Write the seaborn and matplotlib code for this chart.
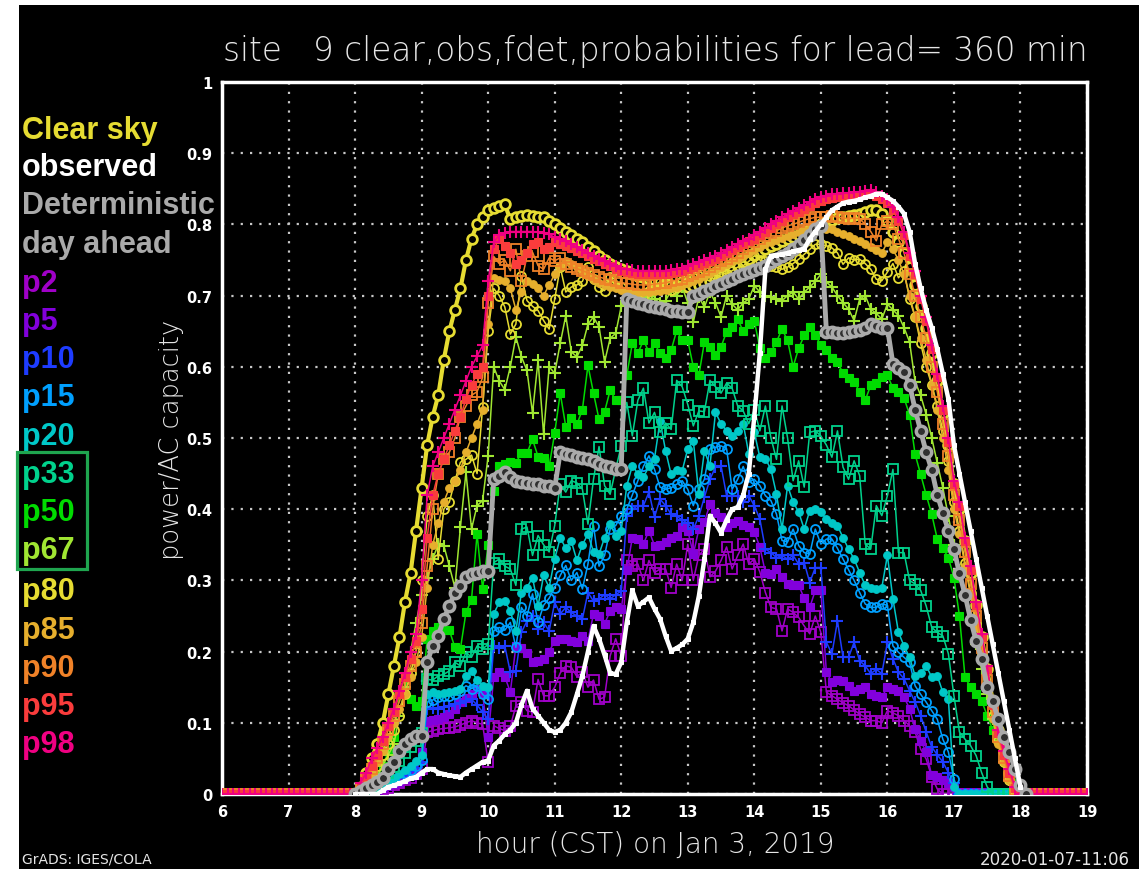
import numpy as np
import matplotlib
matplotlib.use("Agg")
import matplotlib.pyplot as plt
import seaborn as sns
from matplotlib.patches import Rectangle

# ---------------------------------------------------------------------------
# 5-minute values from 08:00 to 18:00 (zero before and after)
# ---------------------------------------------------------------------------
clear_sky = [
    0, 0.01, 0.03, 0.05, 0.07, 0.10, 0.14, 0.18, 0.22, 0.27, 0.31, 0.37,
    0.43, 0.49, 0.53, 0.56, 0.61, 0.65, 0.68, 0.71, 0.75, 0.78, 0.80, 0.81,
    0.82, 0.823, 0.826, 0.828, 0.807, 0.81, 0.812, 0.813, 0.812, 0.81, 0.81, 0.805,
    0.80, 0.795, 0.79, 0.785, 0.78, 0.775, 0.768, 0.762, 0.756, 0.75, 0.745, 0.74,
    0.737, 0.734, 0.731, 0.728, 0.726, 0.724, 0.721, 0.719, 0.717, 0.715, 0.714, 0.713,
    0.712, 0.713, 0.715, 0.718, 0.72, 0.724, 0.728, 0.732, 0.737, 0.742, 0.747, 0.752,
    0.757, 0.761, 0.765, 0.769, 0.773, 0.776, 0.779, 0.782, 0.785, 0.789, 0.793, 0.797,
    0.80, 0.803, 0.806, 0.809, 0.811, 0.812, 0.813, 0.815, 0.817, 0.82, 0.82, 0.815,
    0.805, 0.79, 0.775, 0.76, 0.74, 0.715, 0.685, 0.655, 0.62, 0.58, 0.535, 0.49,
    0.435, 0.40, 0.355, 0.31, 0.265, 0.22, 0.175, 0.13, 0.09, 0.06, 0.03, 0.01,
    0]

observed = [
    0, 0, 0, 0, 0, 0.005, 0.01, 0.012, 0.015, 0.018, 0.022, 0.024,
    0.03, 0.035, 0.035, 0.03, 0.028, 0.026, 0.025, 0.024, 0.03, 0.035, 0.04, 0.045,
    0.047, 0.068, 0.075, 0.084, 0.09, 0.10, 0.125, 0.145, 0.12, 0.11, 0.10, 0.09,
    0.087, 0.09, 0.10, 0.115, 0.14, 0.166, 0.20, 0.236, 0.218, 0.195, 0.17, 0.168,
    0.185, 0.241, 0.286, 0.264, 0.27, 0.276, 0.26, 0.246, 0.222, 0.201, 0.205, 0.21,
    0.218, 0.241, 0.278, 0.33, 0.391, 0.38, 0.367, 0.385, 0.40, 0.403, 0.42, 0.45,
    0.53, 0.62, 0.737, 0.756, 0.757, 0.758, 0.76, 0.762, 0.764, 0.766, 0.78, 0.79,
    0.80, 0.81, 0.82, 0.825, 0.83, 0.832, 0.833, 0.835, 0.838, 0.84, 0.843, 0.843,
    0.838, 0.833, 0.825, 0.815, 0.79, 0.745, 0.71, 0.68, 0.655, 0.625, 0.59, 0.555,
    0.49, 0.45, 0.41, 0.37, 0.33, 0.29, 0.25, 0.21, 0.17, 0.13, 0.09, 0.05,
    0.01]

deterministic = [
    0, 0.004, 0.008, 0.012, 0.017, 0.023, 0.035, 0.045, 0.06, 0.07, 0.077, 0.082,
    0.082, 0.185, 0.208, 0.222, 0.246, 0.264, 0.283, 0.292, 0.305, 0.309, 0.311, 0.313,
    0.313, 0.442, 0.447, 0.452, 0.445, 0.44, 0.438, 0.437, 0.436, 0.435, 0.433, 0.432,
    0.43, 0.48, 0.478, 0.476, 0.474, 0.472, 0.47, 0.467, 0.464, 0.461, 0.459, 0.457,
    0.456, 0.695, 0.692, 0.69, 0.688, 0.686, 0.684, 0.683, 0.681, 0.679, 0.678, 0.677,
    0.677, 0.70, 0.702, 0.706, 0.709, 0.713, 0.716, 0.72, 0.723, 0.727, 0.73, 0.733,
    0.736, 0.739, 0.742, 0.747, 0.752, 0.756, 0.76, 0.765, 0.771, 0.778, 0.785, 0.794,
    0.798, 0.649, 0.649, 0.648, 0.648, 0.649, 0.65, 0.652, 0.655, 0.66, 0.658, 0.655,
    0.655, 0.604, 0.598, 0.592, 0.575, 0.54, 0.51, 0.48, 0.455, 0.42, 0.395, 0.37,
    0.344, 0.31, 0.28, 0.245, 0.215, 0.19, 0.15, 0.13, 0.105, 0.08, 0.059, 0.035,
    0.012, 0]

p2 = [
    0, 0.001, 0.002, 0.003, 0.005, 0.007, 0.009, 0.012, 0.015, 0.019, 0.023, 0.028,
    0.035, 0.087, 0.089, 0.091, 0.092, 0.093, 0.094, 0.097, 0.10, 0.103, 0.10, 0.098,
    0.045, 0.096, 0.092, 0.089, 0.095, 0.124, 0.129, 0.117, 0.115, 0.161, 0.138, 0.138,
    0.15, 0.17, 0.18, 0.178, 0.165, 0.171, 0.15, 0.16, 0.133, 0.136, 0.194, 0.218,
    0.194, 0.328, 0.32, 0.323, 0.30, 0.328, 0.311, 0.316, 0.316, 0.29, 0.323, 0.30,
    0.351, 0.30, 0.335, 0.344, 0.305, 0.313, 0.328, 0.347, 0.316, 0.335, 0.351, 0.323,
    0.33, 0.312, 0.283, 0.262, 0.26, 0.229, 0.26, 0.255, 0.248, 0.236, 0.225, 0.25,
    0.227, 0.143, 0.138, 0.133, 0.128, 0.124, 0.118, 0.112, 0.108, 0.103, 0.103, 0.10,
    0.117, 0.114, 0.11, 0.103, 0.096, 0.087, 0.063, 0.049, 0.024, 0.007, 0, 0,
    0]

p5 = [
    0, 0.001, 0.002, 0.004, 0.006, 0.008, 0.011, 0.014, 0.017, 0.021, 0.025, 0.03,
    0.059, 0.103, 0.104, 0.105, 0.108, 0.112, 0.12, 0.129, 0.135, 0.14, 0.147, 0.14,
    0.08, 0.164, 0.171, 0.165, 0.143, 0.208, 0.205, 0.198, 0.185, 0.187, 0.19, 0.20,
    0.215, 0.218, 0.217, 0.215, 0.214, 0.222, 0.215, 0.253, 0.25, 0.239, 0.257, 0.262,
    0.26, 0.314, 0.36, 0.358, 0.351, 0.37, 0.349, 0.35, 0.354, 0.36, 0.363, 0.375,
    0.37, 0.337, 0.372, 0.382, 0.407, 0.395, 0.389, 0.375, 0.38, 0.384, 0.378, 0.375,
    0.368, 0.347, 0.311, 0.309, 0.316, 0.305, 0.295, 0.294, 0.293, 0.275, 0.262, 0.286,
    0.286, 0.171, 0.157, 0.16, 0.159, 0.152, 0.145, 0.148, 0.15, 0.14, 0.138, 0.136,
    0.15, 0.148, 0.145, 0.136, 0.12, 0.091, 0.075, 0.059, 0.026, 0.024, 0.02, 0.015,
    0.01, 0]

p10 = [
    0, 0.001, 0.003, 0.005, 0.008, 0.011, 0.014, 0.018, 0.022, 0.027, 0.032, 0.037,
    0.045, 0.119, 0.121, 0.12, 0.122, 0.124, 0.126, 0.128, 0.13, 0.133, 0.125, 0.115,
    0.105, 0.208, 0.205, 0.208, 0.171, 0.173, 0.227, 0.243, 0.25, 0.232, 0.241, 0.229,
    0.269, 0.253, 0.262, 0.255, 0.25, 0.246, 0.283, 0.271, 0.274, 0.28, 0.274, 0.28,
    0.285, 0.391, 0.40, 0.405, 0.405, 0.424, 0.389, 0.414, 0.405, 0.393, 0.39, 0.385,
    0.38, 0.372, 0.39, 0.417, 0.442, 0.459, 0.461, 0.419, 0.419, 0.419, 0.41, 0.419,
    0.405, 0.386, 0.344, 0.339, 0.332, 0.335, 0.33, 0.335, 0.323, 0.325, 0.297, 0.318,
    0.318, 0.213, 0.197, 0.243, 0.192, 0.192, 0.213, 0.187, 0.18, 0.169, 0.175, 0.169,
    0.213, 0.19, 0.171, 0.162, 0.145, 0.129, 0.11, 0.087, 0.066, 0.055, 0.045, 0.03,
    0.016, 0]

p15 = [
    0, 0.002, 0.004, 0.006, 0.009, 0.012, 0.015, 0.019, 0.024, 0.029, 0.034, 0.04,
    0.048, 0.129, 0.132, 0.136, 0.137, 0.138, 0.14, 0.145, 0.152, 0.148, 0.152, 0.14,
    0.133, 0.229, 0.234, 0.23, 0.241, 0.206, 0.262, 0.25, 0.281, 0.241, 0.265, 0.275,
    0.29, 0.307, 0.321, 0.30, 0.311, 0.288, 0.323, 0.377, 0.32, 0.335, 0.372, 0.377,
    0.391, 0.40, 0.42, 0.44, 0.46, 0.475, 0.456, 0.431, 0.428, 0.43, 0.435, 0.44,
    0.428, 0.405, 0.428, 0.442, 0.485, 0.487, 0.489, 0.485, 0.428, 0.442, 0.46, 0.438,
    0.442, 0.433, 0.419, 0.412, 0.393, 0.356, 0.354, 0.372, 0.349, 0.339, 0.337, 0.372,
    0.351, 0.358, 0.358, 0.345, 0.33, 0.315, 0.30, 0.283, 0.267, 0.262, 0.262, 0.267,
    0.265, 0.208, 0.199, 0.192, 0.185, 0.152, 0.14, 0.129, 0.117, 0.105, 0.077, 0.059,
    0.021, 0]

p20 = [
    0, 0.002, 0.004, 0.007, 0.01, 0.014, 0.018, 0.023, 0.028, 0.034, 0.04, 0.046,
    0.055, 0.14, 0.143, 0.14, 0.142, 0.143, 0.145, 0.147, 0.166, 0.173, 0.16, 0.152,
    0.15, 0.253, 0.269, 0.271, 0.257, 0.229, 0.283, 0.29, 0.304, 0.264, 0.307, 0.29,
    0.33, 0.36, 0.345, 0.355, 0.328, 0.35, 0.365, 0.34, 0.337, 0.36, 0.379, 0.363,
    0.37, 0.433, 0.461, 0.45, 0.445, 0.46, 0.471, 0.524, 0.482, 0.449, 0.455, 0.454,
    0.485, 0.496, 0.421, 0.482, 0.461, 0.536, 0.52, 0.51, 0.503, 0.51, 0.52, 0.478,
    0.508, 0.473, 0.471, 0.456, 0.421, 0.372, 0.433, 0.41, 0.396, 0.372, 0.398, 0.40,
    0.396, 0.386, 0.38, 0.377, 0.36, 0.344, 0.33, 0.311, 0.293, 0.29, 0.288, 0.29,
    0.335, 0.274, 0.227, 0.208, 0.192, 0.166, 0.17, 0.18, 0.164, 0.166, 0.143, 0.133,
    0.01, 0]

p33 = [
    0, 0.002, 0.005, 0.01, 0.015, 0.022, 0.03, 0.038, 0.047, 0.057, 0.066, 0.075,
    0.085, 0.161, 0.16, 0.166, 0.168, 0.173, 0.185, 0.18, 0.199, 0.192, 0.208, 0.204,
    0.21, 0.325, 0.33, 0.32, 0.316, 0.293, 0.372, 0.375, 0.335, 0.363, 0.35, 0.34,
    0.377, 0.435, 0.424, 0.44, 0.437, 0.428, 0.379, 0.442, 0.488, 0.433, 0.421, 0.456,
    0.489, 0.55, 0.503, 0.553, 0.57, 0.521, 0.536, 0.508, 0.521, 0.512, 0.581, 0.572,
    0.547, 0.517, 0.538, 0.537, 0.581, 0.572, 0.563, 0.577, 0.57, 0.545, 0.538, 0.52,
    0.54, 0.51, 0.545, 0.50, 0.47, 0.545, 0.50, 0.44, 0.468, 0.431, 0.508, 0.51,
    0.503, 0.49, 0.473, 0.51, 0.459, 0.442, 0.468, 0.447, 0.351, 0.344, 0.405, 0.391,
    0.419, 0.456, 0.339, 0.339, 0.30, 0.295, 0.286, 0.264, 0.234, 0.227, 0.222, 0.197,
    0.138, 0.087, 0.077, 0.068, 0.054, 0.03, 0.01, 0]

p50 = [
    0, 0.003, 0.008, 0.015, 0.025, 0.04, 0.06, 0.08, 0.14, 0.164, 0.133, 0.124,
    0.13, 0.218, 0.229, 0.235, 0.23, 0.23, 0.206, 0.204, 0.255, 0.273, 0.365, 0.288,
    0.35, 0.426, 0.46, 0.463, 0.466, 0.465, 0.479, 0.479, 0.498, 0.474, 0.472, 0.46,
    0.507, 0.563, 0.516, 0.528, 0.519, 0.54, 0.602, 0.563, 0.526, 0.537, 0.567, 0.553,
    0.553, 0.588, 0.633, 0.619, 0.637, 0.621, 0.633, 0.619, 0.612, 0.623, 0.651, 0.637,
    0.637, 0.60, 0.588, 0.635, 0.628, 0.616, 0.628, 0.649, 0.656, 0.667, 0.65, 0.66,
    0.665, 0.626, 0.612, 0.621, 0.635, 0.653, 0.637, 0.60, 0.626, 0.644, 0.656, 0.645,
    0.63, 0.623, 0.612, 0.607, 0.591, 0.584, 0.579, 0.565, 0.553, 0.574, 0.577, 0.585,
    0.588, 0.57, 0.565, 0.556, 0.533, 0.477, 0.449, 0.42, 0.393, 0.358, 0.345, 0.332,
    0.304, 0.25, 0.164, 0.15, 0.14, 0.131, 0.11, 0.09, 0.077, 0.052, 0.035, 0.016,
    0]

p67 = [
    0, 0.003, 0.008, 0.015, 0.025, 0.04, 0.055, 0.07, 0.11, 0.15, 0.20, 0.24,
    0.28, 0.303, 0.33, 0.351, 0.349, 0.32, 0.29, 0.375, 0.452, 0.372, 0.405, 0.412,
    0.475, 0.60, 0.58, 0.568, 0.60, 0.642, 0.614, 0.595, 0.535, 0.609, 0.505, 0.60,
    0.591, 0.633, 0.672, 0.621, 0.614, 0.63, 0.66, 0.67, 0.656, 0.607, 0.64, 0.647,
    0.685, 0.693, 0.70, 0.69, 0.698, 0.70, 0.695, 0.69, 0.693, 0.707, 0.70, 0.712,
    0.69, 0.663, 0.698, 0.684, 0.705, 0.69, 0.67, 0.70, 0.688, 0.68, 0.69, 0.695,
    0.714, 0.705, 0.70, 0.698, 0.695, 0.693, 0.70, 0.705, 0.695, 0.705, 0.712, 0.72,
    0.73, 0.719, 0.712, 0.70, 0.69, 0.681, 0.665, 0.695, 0.70, 0.681, 0.675, 0.667,
    0.688, 0.68, 0.672, 0.655, 0.635, 0.579, 0.56, 0.533, 0.50, 0.465, 0.43, 0.39,
    0.35, 0.315, 0.28, 0.245, 0.21, 0.175, 0.14, 0.105, 0.075, 0.045, 0.02, 0.005,
    0]

p80 = [
    0, 0.005, 0.015, 0.025, 0.04, 0.055, 0.07, 0.09, 0.11, 0.14, 0.17, 0.20,
    0.30, 0.39, 0.42, 0.33, 0.40, 0.41, 0.44, 0.466, 0.47, 0.476, 0.45, 0.543,
    0.65, 0.71, 0.70, 0.684, 0.646, 0.66, 0.728, 0.693, 0.685, 0.679, 0.665, 0.653,
    0.695, 0.74, 0.705, 0.712, 0.715, 0.72, 0.74, 0.723, 0.712, 0.707, 0.726, 0.723,
    0.712, 0.705, 0.70, 0.695, 0.70, 0.706, 0.712, 0.72, 0.715, 0.708, 0.712, 0.72,
    0.725, 0.73, 0.735, 0.737, 0.728, 0.73, 0.733, 0.73, 0.735, 0.74, 0.742, 0.748,
    0.756, 0.75, 0.748, 0.742, 0.74, 0.737, 0.74, 0.745, 0.751, 0.758, 0.765, 0.772,
    0.772, 0.77, 0.767, 0.76, 0.744, 0.753, 0.75, 0.751, 0.745, 0.737, 0.723, 0.721,
    0.733, 0.745, 0.725, 0.735, 0.695, 0.67, 0.633, 0.60, 0.575, 0.545, 0.51, 0.467,
    0.41, 0.37, 0.325, 0.283, 0.24, 0.195, 0.15, 0.11, 0.075, 0.045, 0.02, 0.004,
    0]

p85 = [
    0, 0.006, 0.018, 0.03, 0.045, 0.06, 0.08, 0.10, 0.12, 0.14, 0.165, 0.185,
    0.22, 0.29, 0.35, 0.38, 0.41, 0.43, 0.44, 0.455, 0.48, 0.50, 0.52, 0.54,
    0.66, 0.725, 0.722, 0.72, 0.71, 0.68, 0.705, 0.72, 0.716, 0.71, 0.70, 0.715,
    0.73, 0.74, 0.748, 0.745, 0.74, 0.735, 0.727, 0.722, 0.718, 0.715, 0.712, 0.71,
    0.708, 0.707, 0.706, 0.705, 0.705, 0.705, 0.706, 0.707, 0.708, 0.71, 0.712, 0.715,
    0.718, 0.721, 0.724, 0.728, 0.732, 0.736, 0.74, 0.744, 0.748, 0.752, 0.756, 0.76,
    0.764, 0.768, 0.772, 0.775, 0.778, 0.781, 0.784, 0.787, 0.79, 0.792, 0.794, 0.795,
    0.795, 0.794, 0.793, 0.79, 0.786, 0.784, 0.78, 0.777, 0.773, 0.768, 0.764, 0.76,
    0.775, 0.765, 0.75, 0.73, 0.70, 0.67, 0.64, 0.61, 0.575, 0.54, 0.50, 0.455,
    0.40, 0.365, 0.32, 0.28, 0.235, 0.19, 0.15, 0.105, 0.07, 0.045, 0.02, 0.004,
    0]

p90 = [
    0, 0.008, 0.02, 0.035, 0.05, 0.07, 0.09, 0.11, 0.13, 0.155, 0.18, 0.20,
    0.24, 0.32, 0.40, 0.45, 0.47, 0.48, 0.50, 0.53, 0.545, 0.56, 0.565, 0.585,
    0.69, 0.755, 0.745, 0.75, 0.735, 0.765, 0.72, 0.755, 0.761, 0.742, 0.737, 0.753,
    0.749, 0.753, 0.745, 0.74, 0.738, 0.735, 0.732, 0.729, 0.726, 0.724, 0.722, 0.72,
    0.718, 0.717, 0.716, 0.715, 0.715, 0.715, 0.716, 0.717, 0.718, 0.72, 0.722, 0.724,
    0.727, 0.73, 0.733, 0.736, 0.74, 0.744, 0.748, 0.752, 0.756, 0.76, 0.765, 0.77,
    0.775, 0.78, 0.784, 0.788, 0.791, 0.795, 0.798, 0.80, 0.803, 0.806, 0.808, 0.81,
    0.81, 0.81, 0.812, 0.81, 0.809, 0.808, 0.809, 0.808, 0.80, 0.79, 0.777, 0.80,
    0.805, 0.80, 0.78, 0.76, 0.73, 0.70, 0.67, 0.64, 0.60, 0.565, 0.52, 0.475,
    0.42, 0.385, 0.34, 0.295, 0.25, 0.205, 0.16, 0.115, 0.08, 0.05, 0.025, 0.005,
    0]

p95 = [
    0, 0.01, 0.025, 0.04, 0.055, 0.075, 0.095, 0.115, 0.14, 0.165, 0.19, 0.215,
    0.26, 0.36, 0.42, 0.45, 0.47, 0.49, 0.51, 0.53, 0.555, 0.575, 0.59, 0.60,
    0.70, 0.765, 0.78, 0.77, 0.76, 0.745, 0.75, 0.76, 0.772, 0.775, 0.765, 0.768,
    0.775, 0.773, 0.77, 0.767, 0.763, 0.76, 0.756, 0.752, 0.748, 0.744, 0.741, 0.737,
    0.734, 0.733, 0.732, 0.731, 0.731, 0.731, 0.731, 0.731, 0.731, 0.732, 0.733, 0.734,
    0.737, 0.74, 0.743, 0.746, 0.749, 0.752, 0.756, 0.76, 0.764, 0.768, 0.772, 0.776,
    0.78, 0.785, 0.79, 0.795, 0.80, 0.805, 0.81, 0.814, 0.818, 0.822, 0.826, 0.83,
    0.833, 0.835, 0.837, 0.838, 0.839, 0.839, 0.84, 0.841, 0.842, 0.843, 0.84, 0.835,
    0.83, 0.82, 0.805, 0.785, 0.755, 0.73, 0.695, 0.665, 0.625, 0.585, 0.54, 0.495,
    0.435, 0.405, 0.355, 0.315, 0.265, 0.22, 0.175, 0.125, 0.085, 0.055, 0.03, 0.008,
    0]

p98 = [
    0, 0.015, 0.03, 0.05, 0.065, 0.08, 0.10, 0.12, 0.145, 0.17, 0.20, 0.225,
    0.30, 0.42, 0.46, 0.48, 0.50, 0.52, 0.54, 0.56, 0.58, 0.60, 0.615, 0.63,
    0.72, 0.775, 0.785, 0.788, 0.79, 0.79, 0.79, 0.79, 0.79, 0.789, 0.788, 0.786,
    0.782, 0.779, 0.776, 0.772, 0.768, 0.764, 0.76, 0.756, 0.752, 0.748, 0.745, 0.741,
    0.738, 0.737, 0.736, 0.735, 0.735, 0.735, 0.735, 0.735, 0.735, 0.736, 0.737, 0.738,
    0.741, 0.744, 0.747, 0.75, 0.753, 0.756, 0.76, 0.764, 0.768, 0.772, 0.776, 0.78,
    0.785, 0.79, 0.795, 0.80, 0.805, 0.81, 0.815, 0.819, 0.823, 0.827, 0.831, 0.835,
    0.838, 0.84, 0.842, 0.843, 0.844, 0.844, 0.845, 0.846, 0.847, 0.849, 0.845, 0.84,
    0.835, 0.825, 0.81, 0.79, 0.76, 0.735, 0.70, 0.67, 0.63, 0.59, 0.545, 0.50,
    0.44, 0.41, 0.36, 0.32, 0.27, 0.225, 0.18, 0.13, 0.09, 0.06, 0.035, 0.01,
    0]

legend_labels = ["Clear sky", "observed", "Deterministic", "day ahead",
                 "p2", "p5", "p10", "p15", "p20", "p33", "p50", "p67",
                 "p80", "p85", "p90", "p95", "p98"]

# GrADS default colour table
C_YELLOW = "#e6dc32"
C_GRAY = "#aaaaaa"
pct_colors = {
    "p2": "#a000c8", "p5": "#8200dc", "p10": "#1e3cff", "p15": "#00a0ff",
    "p20": "#00c8c8", "p33": "#00d28c", "p50": "#00dc00", "p67": "#a0e632",
    "p80": "#e6dc32", "p85": "#e6af2d", "p90": "#f08228", "p95": "#fa3c3c",
    "p98": "#f00082",
}

# Time axis: 06:00 .. 19:00 every 5 minutes
hours = np.arange(6 * 60, 19 * 60 + 1, 5) / 60.0
n_before = 24  # 06:00 .. 07:55


def full_day(vals, fill=0.0):
    v = np.asarray(vals, dtype=float)
    return np.concatenate([np.full(n_before, fill), v,
                           np.full(len(hours) - n_before - len(v), fill)])


sns.set_style("dark")
plt.rcParams["font.family"] = ["DejaVu Sans"]

W, H = 1148, 870
fig = plt.figure(figsize=(W / 100, H / 100), dpi=100, facecolor="white")
fig.patches.append(Rectangle((19 / W, 0), 1120 / W, 864 / H,
                             transform=fig.transFigure, facecolor="black",
                             edgecolor="none", zorder=-10))

ax = fig.add_axes([222 / W, 1 - 795 / H, 865 / W, 712 / H])
ax.set_zorder(1)
ax.set_facecolor("black")

# marker style per percentile (cycle: open square, filled square, plus,
# open circle, filled circle)
marker_cycle = [("s", False), ("s", True), ("+", False), ("o", False), ("o", True)]
pct_series = [("p2", p2), ("p5", p5), ("p10", p10), ("p15", p15), ("p20", p20),
              ("p33", p33), ("p50", p50), ("p67", p67), ("p80", p80),
              ("p85", p85), ("p90", p90), ("p95", p95), ("p98", p98)]

# clear sky underneath everything
sns.lineplot(x=hours, y=full_day(clear_sky), ax=ax, color=C_YELLOW, lw=3.0,
             marker="o", markersize=7, markerfacecolor="black",
             markeredgecolor=C_YELLOW, markeredgewidth=2.0,
             estimator=None, sort=False, legend=False, zorder=3)

for i, (name, vals) in enumerate(pct_series):
    m, filled = marker_cycle[i % 5]
    col = pct_colors[name]
    if m == "+":
        kw = dict(marker="+", markersize=8, markeredgewidth=1.5,
                  markeredgecolor=col, markerfacecolor=col)
    elif filled:
        kw = dict(marker=m, markersize=5.5 if m == "o" else 6,
                  markeredgewidth=0.8, markeredgecolor=col, markerfacecolor=col)
    else:
        kw = dict(marker=m, markersize=6.5, markeredgewidth=1.3,
                  markeredgecolor=col, markerfacecolor="none")
    sns.lineplot(x=hours, y=full_day(vals), ax=ax, color=col, lw=1.1,
                 estimator=None, sort=False, legend=False, zorder=4 + i * 0.01,
                 **kw)

# the day-ahead forecast and the observations only cover daylight hours
sns.lineplot(x=hours, y=full_day(deterministic, fill=np.nan), ax=ax,
             color=C_GRAY, lw=3.5, marker="o", markersize=7.5,
             markerfacecolor="#303030", markeredgecolor=C_GRAY,
             markeredgewidth=2.5, estimator=None, sort=False, legend=False,
             zorder=5)

sns.lineplot(x=hours, y=full_day(observed, fill=np.nan), ax=ax, color="white",
             lw=3.2, marker="s", markersize=2.5, markeredgecolor="white",
             estimator=None, sort=False, legend=False, zorder=6)

# axes, grid and ticks
ax.set_xlim(6, 19)
ax.set_ylim(0, 1)
ax.set_xticks(range(6, 20))
ax.set_xticklabels([str(h) for h in range(6, 20)])
yt = np.round(np.arange(0, 1.01, 0.1), 1)
ax.set_yticks(yt)
ax.set_yticklabels(["0" if v == 0 else ("1" if v == 1 else f"{v:.1f}") for v in yt])
ax.grid(True, color="#c8c8c8", linestyle=(0, (1.0, 3.2)), linewidth=1.6)
ax.set_axisbelow(True)
for s in ax.spines.values():
    s.set_visible(True)
    s.set_color("white")
    s.set_linewidth(2.5)
ax.tick_params(axis="both", colors="white", labelsize=10.5, length=4,
               width=1.5, direction="out", pad=3)
for lbl in ax.get_xticklabels() + ax.get_yticklabels():
    lbl.set_fontweight("bold")
    lbl.set_color("white")
ax.set_xlabel("")
ax.set_ylabel("")

# titles and labels
fig.text(655 / W, 1 - 52 / H,
         "site   9 clear,obs,fdet,probabilities for lead= 360 min",
         color="#e6e6e6", fontsize=23.5, fontweight="light",
         ha="center", va="center")
fig.text(655 / W, 1 - 845 / H, "hour (CST) on Jan 3, 2019", color="#e6e6e6",
         fontsize=20, fontweight="light", ha="center", va="center")
fig.text(172 / W, 1 - 440 / H, "power/AC capacity", color="#e6e6e6",
         fontsize=18.5, fontweight="light", rotation=90,
         ha="center", va="center")
fig.text(22 / W, 1 - 860 / H, "GrADS: IGES/COLA", color="#e6e6e6",
         fontsize=10, ha="left", va="center")
fig.text(1130 / W, 1 - 860 / H, "2020-01-07-11:06", color="#e6e6e6",
         fontsize=12, ha="right", va="center")

# coloured legend down the left margin
legend_colors = [C_YELLOW, "white", C_GRAY, C_GRAY] + \
    [pct_colors[n] for n in legend_labels[4:]]
legend_y = [131, 168, 206, 245, 284, 322, 360, 398, 437, 475, 513, 551,
            592, 631, 669, 707, 745]
for lab, col, yy in zip(legend_labels, legend_colors, legend_y):
    fig.text(22 / W, 1 - yy / H, lab, color=col, fontsize=22,
             fontweight="bold", family="Liberation Sans",
             ha="left", va="center", zorder=3)

fig.patches.append(Rectangle((17 / W, 1 - 570 / H), 70 / W, 117 / H,
                             transform=fig.transFigure, fill=False,
                             edgecolor="#1fa54f", linewidth=2.3, zorder=5))

fig.savefig("out.png", dpi=100, facecolor=fig.get_facecolor())
